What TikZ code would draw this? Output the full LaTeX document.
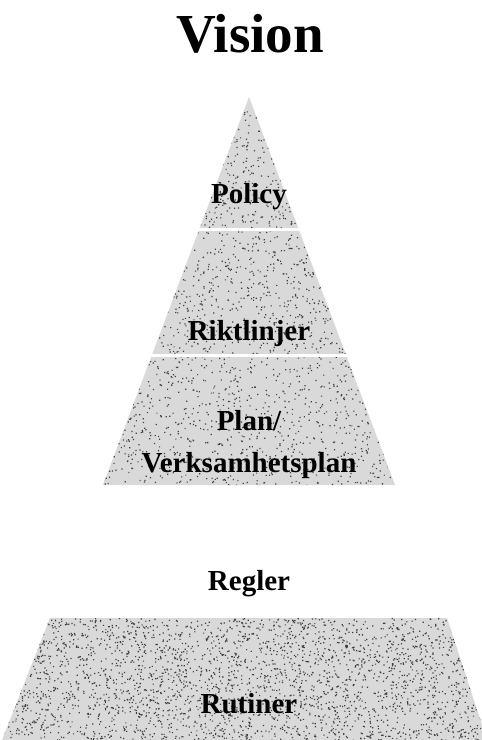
\documentclass[tikz,border=0pt]{standalone}
\usepackage{fontspec}
\setmainfont{Liberation Serif}
\usepackage{tikz}
\usetikzlibrary{positioning}

\begin{document}
\begin{tikzpicture}[x=1pt, y=-1pt,
  lvl/.style={fill=gray!30, draw=none},
  dots/.style={fill=black!75, draw=none},
  gap/.style={draw=white, line width=3pt},
  lbl/.style={anchor=base, font=\fontsize{29}{32}\selectfont\bfseries, inner sep=0pt},
  ttl/.style={anchor=base, font=\fontsize{55}{60}\selectfont\bfseries, inner sep=0pt}]
\useasboundingbox (0,0) rectangle (482,740);
\pgfmathsetseed{11}
% pyramid: apex (249,97), sides slope 0.376
\coordinate (apex) at (249,97);
\coordinate (pl) at (103,485); \coordinate (pr) at (395,485);
\coordinate (rtl) at (50,618); \coordinate (rtr) at (447,618);
\coordinate (rbl) at (2,740); \coordinate (rbr) at (487,740);
\fill[lvl] (apex) -- (pr) -- (pl) -- cycle;
\fill[lvl] (rtl) -- (rtr) -- (rbr) -- (rbl) -- cycle;
% stipple texture
\begin{scope}
  \clip (apex) -- (pr) -- (pl) -- cycle;
  \fill[dots] \foreach \i in {1,...,3000} {({103+rnd*292},{97+rnd*388}) rectangle ++(1.2,1.2)};
\end{scope}
\begin{scope}
  \clip (rtl) -- (rtr) -- (rbr) -- (rbl) -- cycle;
  \fill[dots] \foreach \i in {1,...,3000} {({0+rnd*482},{618+rnd*122}) rectangle ++(1.2,1.2)};
\end{scope}
% band separators
\draw[gap] (150,229) -- (350,229);
\draw[gap] (100,355) -- (400,355);
% labels
\node[ttl] (vision) at (250,52) {Vision};
\node[lbl] (policy) at (249,203) {Policy};
\node[lbl] (riktl) at (249,340) {Riktlinjer};
\node[lbl] (plan) at (249,430) {Plan/};
\node[lbl] (vplan) at (249,472) {Verksamhetsplan};
\node[lbl] (regler) at (249,590) {Regler};
\node[lbl] (rutiner) at (249,713) {Rutiner};
\end{tikzpicture}
\end{document}
